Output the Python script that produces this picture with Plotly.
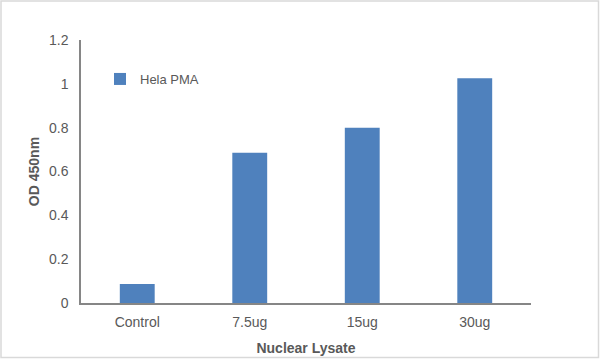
import plotly.graph_objects as go

categories = ["Control", "7.5ug", "15ug", "30ug"]
values = [0.087, 0.685, 0.80, 1.025]
series_name = "Hela PMA"
y_ticks = [0, 0.2, 0.4, 0.6, 0.8, 1.0, 1.2]
y_tick_labels = ["0", "0.2", "0.4", "0.6", "0.8", "1", "1.2"]

W, H = 600, 361
ML, MR, MT, MB = 81, 69, 40, 58
PW, PH = W - ML - MR, H - MT - MB

font_fam = "Liberation Sans, Arial, sans-serif"
txt = "#595959"

fig = go.Figure()
fig.add_trace(go.Bar(
    x=categories, y=values, name=series_name,
    marker=dict(color="#4F81BD", line=dict(width=0)),
    showlegend=True,
))

def px_x(px):
    return (px - ML) / PW

def px_y(py):
    return (H - MB - py) / PH

fig.update_layout(
    width=W, height=H,
    margin=dict(l=ML, r=MR, t=MT, b=MB, pad=0, autoexpand=False),
    paper_bgcolor="white", plot_bgcolor="white",
    font=dict(family=font_fam, size=14, color=txt),
    bargap=0.69,
    showlegend=True,
    legend=dict(x=px_x(100), y=px_y(64), xanchor="left", yanchor="top",
                bgcolor="rgba(0,0,0,0)", font=dict(size=13, color=txt),
                itemwidth=30),
    xaxis=dict(
        automargin=False,
        showline=True, linecolor="#868686", linewidth=1.5,
        showgrid=False, ticks="", ticklabelstandoff=5,
        title=dict(text="<b>Nuclear Lysate</b>", font=dict(size=14, color=txt), standoff=15),
    ),
    yaxis=dict(
        automargin=False,
        range=[0, 1.2], tickvals=y_ticks, ticktext=y_tick_labels,
        showline=True, linecolor="#868686", linewidth=1.5,
        showgrid=False, zeroline=False, ticks="", ticklabelstandoff=8,
        title=dict(text="<b>OD 450nm</b>", font=dict(size=14, color=txt), standoff=6),
    ),
    shapes=[dict(
        type="rect", xref="paper", yref="paper",
        x0=px_x(1), x1=px_x(598.5), y0=px_y(357.5), y1=px_y(1),
        line=dict(color="#d9d9d9", width=1.5), fillcolor="rgba(0,0,0,0)",
        layer="below",
    )],
)

post = (
    "document.documentElement.style.cssText='margin:0;padding:0;overflow:hidden;height:361px;';"
    "document.body.style.cssText='margin:0;padding:0;overflow:hidden;height:361px;line-height:0;font-size:0;';"
)
fig.write_html("out.html", config={"displayModeBar": False}, post_script=post)
